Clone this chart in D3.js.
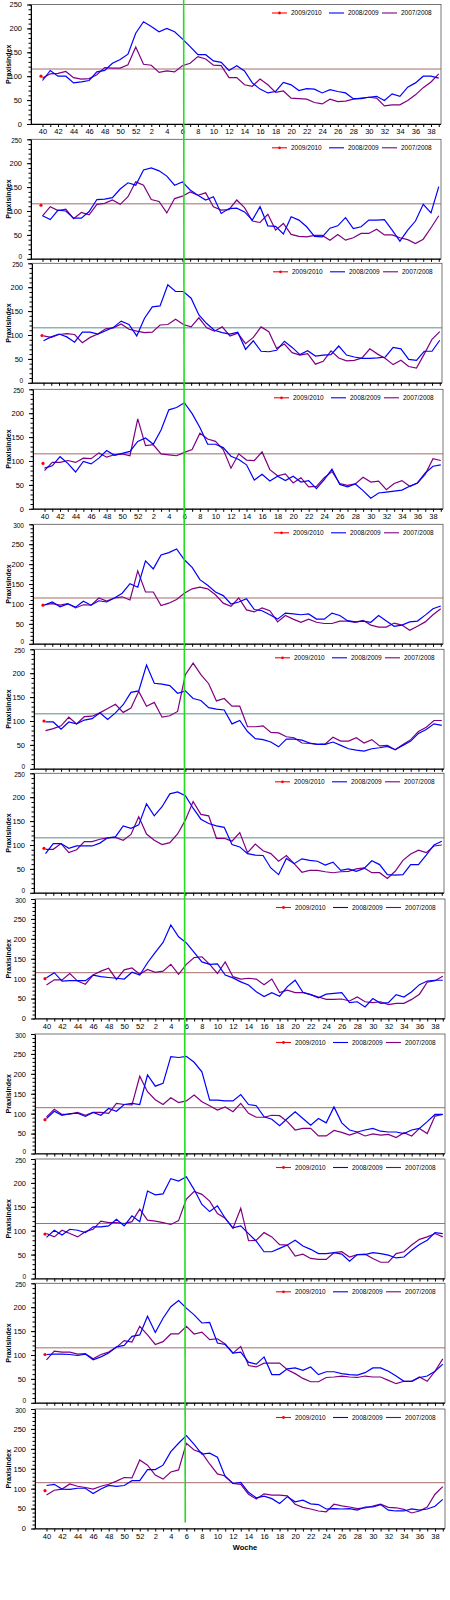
<!DOCTYPE html>
<html>
<head>
<meta charset="utf-8">
<script src="https://cdn.jsdelivr.net/npm/d3@7"></script>
<style>
  body { margin: 0; background: #fff; }
  svg { display: block; font-family: "Liberation Sans", Arial, sans-serif; }
</style>
</head>
<body>
<div id="chart"></div>
<script>
// season weeks 40..52, 1..39
const weeks = d3.range(40, 53).concat(d3.range(1, 40));
const seriesNames = ['2009/2010', '2008/2009', '2007/2008'];
const seriesColors = ['#ff0000', '#0000ff', '#800080'];
const yMax = [250, 250, 250, 250, 300, 250, 250, 300, 300, 250, 250, 300];
const threshold = 115;
const markerWeek = 6;

// 2009/2010: only week 40 so far
const season0910 = [100, 112, 99, 95, 97, 100, 93, 100, 85, 93, 101, 95];

const season0809 = [
  [91,112,100,100,86,88,91,109,112,127,135,146,190,214,204,193,200,193,178,162,145,145,132,129,112,122,111,86,73,65,68,87,82,70,74,73,65,72,68,65,53,53,56,58,49,63,58,77,86,100,100,96],
  [90,82,102,100,85,85,99,124,125,128,146,159,154,186,190,184,173,154,161,144,133,123,130,95,105,106,98,81,109,69,68,52,88,81,67,47,46,64,69,86,63,67,81,81,82,60,37,60,79,114,96,151],
  [88,96,102,96,85,106,106,102,109,116,129,122,98,135,159,161,205,191,191,177,142,124,110,105,102,106,70,88,66,65,68,87,74,59,67,56,58,59,77,58,54,51,51,52,54,74,71,49,47,66,66,89],
  [85,90,109,95,77,99,94,106,122,112,116,120,141,148,135,165,207,212,222,199,170,135,135,128,110,103,92,60,72,58,68,59,68,56,59,42,61,83,51,46,52,38,22,33,35,37,39,47,54,75,89,92],
  [97,105,93,100,92,107,97,108,105,115,127,151,142,208,188,223,229,238,211,192,161,147,130,121,100,105,113,86,83,73,62,77,75,73,75,62,62,77,71,58,55,57,54,71,57,44,47,55,57,72,88,95],
  [98,98,83,98,94,102,105,117,103,117,134,160,163,217,179,177,174,158,163,147,143,128,125,123,94,101,78,63,61,56,46,62,62,60,54,51,51,56,49,42,39,37,42,44,47,40,49,58,74,82,94,91],
  [82,103,103,93,98,98,98,104,115,117,140,135,142,186,161,180,207,211,203,177,154,145,140,137,101,96,82,79,78,52,38,72,61,71,68,66,58,64,47,50,45,51,67,59,38,37,38,59,59,79,100,108],
  [102,115,94,95,95,95,109,105,103,101,99,116,109,140,166,191,235,205,190,166,142,136,137,109,102,92,84,67,55,65,56,80,96,66,60,52,61,63,65,40,42,29,50,38,40,60,54,67,85,94,96,96],
  [88,106,96,100,101,93,103,96,113,106,123,126,123,197,169,176,243,241,244,229,205,134,134,132,132,148,123,120,92,86,70,88,105,88,71,88,77,117,77,59,54,59,63,56,54,54,50,59,63,80,98,98],
  [86,101,91,103,101,96,108,108,110,124,110,131,119,183,175,177,209,204,213,186,155,140,152,126,106,110,94,78,56,56,63,70,80,68,61,52,52,54,51,36,50,50,54,52,49,43,45,59,71,80,96,94],
  [101,102,102,101,99,102,90,96,104,117,120,139,142,181,147,177,201,214,198,184,167,168,125,122,104,106,85,81,96,59,59,71,73,68,75,59,65,65,61,59,58,63,73,73,66,56,45,45,53,56,66,81],
  [108,111,99,98,101,101,88,99,108,106,108,120,120,148,148,159,193,214,233,211,187,189,179,130,113,116,91,77,81,75,63,80,67,71,62,60,49,50,49,50,46,54,54,60,46,44,44,49,46,49,56,73]
];

const season0708 = [
  [96,105,106,110,97,94,95,103,118,117,117,124,161,125,123,108,111,109,122,127,141,136,123,122,97,97,82,79,94,82,66,69,54,53,52,45,42,52,47,48,52,54,56,54,38,40,40,49,61,76,88,105],
  [90,109,101,104,84,97,92,114,116,123,114,130,161,154,124,120,96,126,131,140,133,138,109,102,103,123,107,79,76,93,60,74,51,47,46,49,49,39,51,39,44,53,53,62,50,50,44,40,32,41,65,90],
  [98,95,101,103,101,84,95,102,113,115,123,112,108,105,106,121,122,133,122,117,136,115,108,117,98,104,82,95,117,107,72,81,63,58,61,39,45,67,52,46,47,52,71,60,51,38,47,34,31,60,91,107],
  [80,97,97,101,97,106,105,117,108,113,115,111,188,132,134,115,113,111,118,124,158,146,141,124,85,115,102,101,119,82,69,73,54,65,46,47,65,78,53,49,52,66,56,58,40,53,59,47,54,72,105,101],
  [98,101,97,101,90,98,97,115,107,115,118,110,183,130,130,96,102,111,127,138,142,138,123,102,94,115,85,80,90,83,55,71,62,54,62,54,51,51,57,57,54,59,47,42,42,52,47,34,44,55,73,88],
  [80,84,90,108,94,109,110,117,126,135,118,127,162,131,139,108,111,120,197,221,197,178,142,147,131,131,88,88,90,76,75,67,65,54,53,51,52,66,58,58,65,54,61,48,49,40,51,61,78,87,101,101],
  [91,91,103,84,90,107,107,112,115,116,110,122,159,123,110,101,105,123,152,191,164,161,114,114,108,126,84,102,88,82,66,78,61,43,47,47,44,42,44,45,50,52,42,42,30,45,68,81,89,84,98,100],
  [84,97,97,113,94,86,109,119,126,98,122,127,111,123,116,119,136,111,136,153,155,136,113,142,105,99,101,99,85,99,65,71,65,65,60,54,48,48,49,44,54,42,40,42,35,38,38,48,61,91,95,106],
  [92,111,98,99,103,96,103,103,101,126,123,122,194,155,135,123,140,128,132,147,130,120,109,117,105,126,101,91,91,96,95,80,59,63,63,44,44,58,53,46,53,44,49,46,48,40,52,44,63,50,94,98],
  [94,87,101,94,87,98,103,120,117,117,115,119,145,122,120,117,113,121,166,182,176,162,136,126,105,147,79,80,96,87,71,70,47,51,42,40,40,54,56,45,50,51,42,34,34,52,56,70,82,87,94,87],
  [90,108,106,106,102,103,92,101,106,116,130,127,160,142,122,128,144,144,160,144,148,132,134,123,104,118,78,75,83,83,83,69,61,51,44,44,53,54,56,54,53,56,54,54,47,40,45,45,54,45,66,92],
  [84,96,99,112,106,103,99,106,111,119,128,127,172,159,134,124,142,147,214,197,190,162,137,132,113,111,86,74,87,84,84,82,61,53,49,44,42,61,57,54,50,52,56,61,53,52,48,39,44,54,86,105]
];

// layout
const width = 450, height = 1600;
const panelTop = [4.5, 139.3, 263.3, 389.3, 524.3, 649.3, 773.3, 899, 1034, 1159, 1283.3, 1409];
const panelLeft = [31, 31, 32, 33, 33, 34, 34, 35, 35, 35, 35, 35];
const plotH = 119.5;
const plotW = 410;
const weekStep = 7.77;
const labelledPanels = [0, 3, 7, 11];

const svg = d3.select('#chart')
  .append('svg')
  .attr('width', width)
  .attr('height', height)
  .attr('viewBox', [0, 0, width, height]);

const scales = [];

panelTop.forEach((top, p) => {
  const left = panelLeft[p];
  const bottom = top + plotH;
  const right = left + plotW;
  // is the next panel packed right under this one?
  const tight = p < panelTop.length - 1 && panelTop[p + 1] - bottom < 8;

  const x = d3.scalePoint()
    .domain(weeks)
    .range([left + 11.5, left + 11.5 + (weeks.length - 1) * weekStep]);

  const y = d3.scaleLinear()
    .domain([0, yMax[p]])
    .range([bottom, top]);

  scales.push(x);

  const g = svg.append('g');

  // frame (top / right)
  g.append('rect')
    .attr('x', left)
    .attr('y', top)
    .attr('width', right - left)
    .attr('height', bottom - top)
    .attr('fill', 'none')
    .attr('stroke', '#555')
    .attr('stroke-width', 0.8);

  // threshold line
  g.append('line')
    .attr('x1', left).attr('x2', right)
    .attr('y1', y(threshold)).attr('y2', y(threshold))
    .attr('stroke', '#5f8f8f')
    .attr('stroke-dasharray', '1,1');
  g.append('line')
    .attr('x1', left + 1).attr('x2', right)
    .attr('y1', y(threshold)).attr('y2', y(threshold))
    .attr('stroke', '#a06868')
    .attr('stroke-dasharray', '1,1');

  // y axis: minor ticks every 10, labels every 50
  g.append('g')
    .attr('transform', `translate(${left},0)`)
    .call(d3.axisLeft(y).tickValues(d3.range(0, yMax[p] + 1, 10)).tickSize(2.5).tickFormat(''))
    .call(a => a.select('.domain').remove())
    .selectAll('line').attr('stroke', '#000');

  const yAxis = g.append('g')
    .attr('transform', `translate(${left},0)`)
    .call(d3.axisLeft(y).tickValues(d3.range(0, yMax[p] + 1, 50)).tickSize(4).tickPadding(5).tickSizeOuter(0));
  yAxis.attr('font-size', 7.5).attr('font-family', null);
  yAxis.select('.domain').attr('stroke', '#000').attr('stroke-width', 1);
  yAxis.selectAll('text')
    .attr('fill', '#000')
    .attr('font-size', d => (d === 0 && tight) || (d === yMax[p] && p > 0) ? 6.5 : 7.5)
    .attr('dy', d => d === 0 && tight ? '-0.05em' : (d === yMax[p] && p > 0 ? '0.55em' : '0.32em'));

  // x axis
  const showLabels = labelledPanels.includes(p);
  const xAxis = g.append('g')
    .attr('transform', `translate(0,${bottom})`)
    .call(d3.axisBottom(x).tickSize(3).tickPadding(2).tickSizeOuter(0)
      .tickFormat(w => showLabels && w % 2 === 0 ? w : ''));
  xAxis.attr('font-size', 7.5).attr('font-family', null);
  xAxis.select('.domain').attr('d', `M${left},0.5H${right}`).attr('stroke', '#000');
  xAxis.selectAll('text').attr('fill', '#000');
  if (!showLabels) xAxis.selectAll('text').remove();

  // y title
  g.append('text')
    .attr('transform', `translate(9,${(top + bottom) / 2}) rotate(-90)`)
    .attr('text-anchor', 'middle')
    .attr('dy', '0.35em')
    .attr('font-size', 7)
    .attr('font-weight', 'bold')
    .text('Praxisindex');

  // series
  const line = d3.line()
    .x((d, i) => x(weeks[i]))
    .y(d => y(d));

  g.append('path')
    .datum(season0708[p])
    .attr('d', line)
    .attr('fill', 'none')
    .attr('stroke', seriesColors[2])
    .attr('stroke-width', 1.2);

  g.append('path')
    .datum(season0809[p])
    .attr('d', line)
    .attr('fill', 'none')
    .attr('stroke', seriesColors[1])
    .attr('stroke-width', 1.2);

  g.append('circle')
    .attr('cx', x(weeks[0]) - 1.5)
    .attr('cy', y(season0910[p]))
    .attr('r', 1.6)
    .attr('fill', seriesColors[0]);

  // legend
  const legendOffsets = [169, 112, 59];
  const ly = top + 8.5;
  seriesNames.forEach((name, k) => {
    const lx = right - legendOffsets[k];
    g.append('line')
      .attr('x1', lx).attr('x2', lx + 15)
      .attr('y1', ly).attr('y2', ly)
      .attr('stroke', seriesColors[k])
      .attr('stroke-width', 1.1);
    if (k === 0) {
      g.append('circle')
        .attr('cx', lx + 7.5).attr('cy', ly).attr('r', 1.4)
        .attr('fill', seriesColors[k]);
    }
    g.append('text')
      .attr('x', lx + 19)
      .attr('y', ly)
      .attr('dy', '0.35em')
      .attr('font-size', 6.5)
      .text(name);
  });
});

// week label
svg.append('text')
  .attr('x', 245)
  .attr('y', panelTop[11] + plotH + 21)
  .attr('text-anchor', 'middle')
  .attr('font-size', 7.5)
  .attr('font-weight', 'bold')
  .text('Woche');

// current-week marker
svg.append('line')
  .attr('x1', scales[0](markerWeek) + 1.3)
  .attr('x2', scales[11](markerWeek) - 1.1)
  .attr('y1', 0)
  .attr('y2', panelTop[11] + plotH - 6)
  .attr('stroke', '#22dd22')
  .attr('stroke-width', 1.6);
</script>
</body>
</html>
